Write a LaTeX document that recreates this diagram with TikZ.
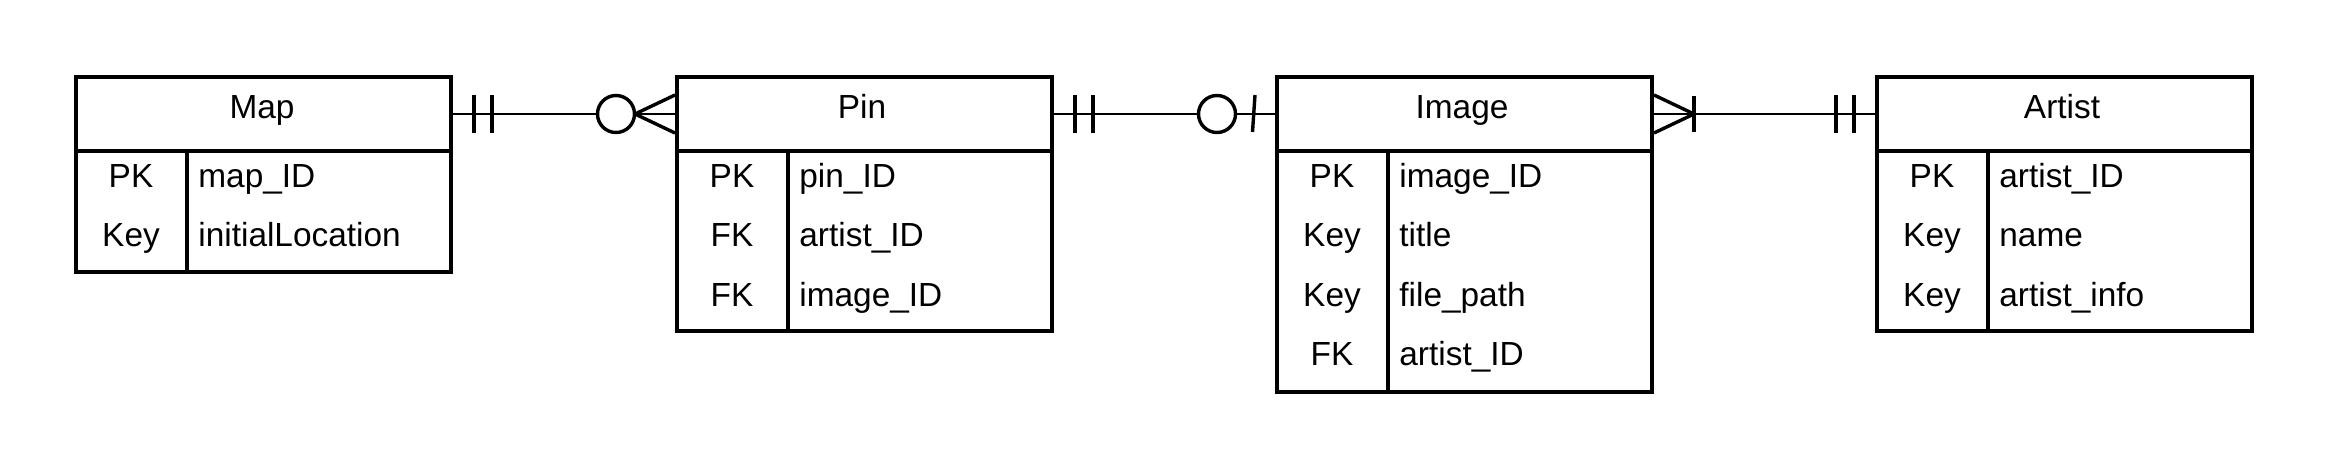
\documentclass[tikz,border=0pt]{standalone}
\usepackage{fontspec}
\setmainfont{Liberation Sans}
\usetikzlibrary{calc}
\tikzset{
  ent/.style={draw, line width=2pt, minimum width=187.5pt, inner sep=0pt, anchor=north west},
  txt/.style={font=\fontsize{16.7}{19}\selectfont, inner sep=0pt},
  conn/.style={line width=1.4pt},
  tick/.style={line width=1.7pt},
  divider/.style={line width=1.6pt},
}
\begin{document}
\begin{tikzpicture}[x=0.5pt,y=-0.5pt]
\useasboundingbox (0,0) rectangle (2325,465);
% ---- Map ----
\node[ent, minimum height=37pt] (maph) at (74,75) {};
\node[ent, minimum height=60.5pt] (mapb) at (74,149) {};
\draw[divider] ($(mapb.north west)+(113,0)$) -- ($(mapb.south west)+(113,0)$);
\node[txt, anchor=base] (mapt) at (262,119) {Map};
\node[txt, anchor=base] (mapk1) at (131,187) {PK};
\node[txt, anchor=base west] (mapv1) at (198,187) {map\_ID};
\node[txt, anchor=base] (mapk2) at (131,246.5) {Key};
\node[txt, anchor=base west] (mapv2) at (198,246.5) {initialLocation};
% ---- Pin ----
\node[ent, minimum height=37pt] (pinh) at (675,75) {};
\node[ent, minimum height=90pt] (pinb) at (675,149) {};
\draw[divider] ($(pinb.north west)+(113,0)$) -- ($(pinb.south west)+(113,0)$);
\node[txt, anchor=base] (pint) at (862,119) {Pin};
\node[txt, anchor=base] (pink1) at (732,187) {PK};
\node[txt, anchor=base west] (pinv1) at (799,187) {pin\_ID};
\node[txt, anchor=base] (pink2) at (732,246.5) {FK};
\node[txt, anchor=base west] (pinv2) at (799,246.5) {artist\_ID};
\node[txt, anchor=base] (pink3) at (732,306) {FK};
\node[txt, anchor=base west] (pinv3) at (799,306) {image\_ID};
% ---- Image ----
\node[ent, minimum height=37pt] (imgh) at (1275,75) {};
\node[ent, minimum height=120.5pt] (imgb) at (1275,149) {};
\draw[divider] ($(imgb.north west)+(113,0)$) -- ($(imgb.south west)+(113,0)$);
\node[txt, anchor=base] (imgt) at (1462,119) {Image};
\node[txt, anchor=base] (imgk1) at (1332,187) {PK};
\node[txt, anchor=base west] (imgv1) at (1399,187) {image\_ID};
\node[txt, anchor=base] (imgk2) at (1332,246.5) {Key};
\node[txt, anchor=base west] (imgv2) at (1399,246.5) {title};
\node[txt, anchor=base] (imgk3) at (1332,306) {Key};
\node[txt, anchor=base west] (imgv3) at (1399,306) {file\_path};
\node[txt, anchor=base] (imgk4) at (1332,365.5) {FK};
\node[txt, anchor=base west] (imgv4) at (1399,365.5) {artist\_ID};
% ---- Artist ----
\node[ent, minimum height=37pt] (arth) at (1875,75) {};
\node[ent, minimum height=90pt] (artb) at (1875,149) {};
\draw[divider] ($(artb.north west)+(113,0)$) -- ($(artb.south west)+(113,0)$);
\node[txt, anchor=base] (artt) at (2062,119) {Artist};
\node[txt, anchor=base] (artk1) at (1932,187) {PK};
\node[txt, anchor=base west] (artv1) at (1999,187) {artist\_ID};
\node[txt, anchor=base] (artk2) at (1932,246.5) {Key};
\node[txt, anchor=base west] (artv2) at (1999,246.5) {name};
\node[txt, anchor=base] (artk3) at (1932,306) {Key};
\node[txt, anchor=base west] (artv3) at (1999,306) {artist\_info};
% ---- Map -- Pin : one and only one  /  zero or many ----
\draw[conn] (maph.east) -- (pinh.west);
\draw[tick] ($(maph.east)+(21,-19)$) -- ($(maph.east)+(21,19)$);
\draw[tick] ($(maph.east)+(39,-19)$) -- ($(maph.east)+(39,19)$);
\draw[tick] ($(pinh.west)+(0,-19)$) -- ($(pinh.west)+(-40,0)$) -- ($(pinh.west)+(0,19)$);
\draw[tick, fill=white] ($(pinh.west)+(-59,0)$) circle[radius=9.25pt];
% ---- Pin -- Image : one and only one  /  zero or one ----
\draw[conn] (pinh.east) -- (imgh.west);
\draw[tick] ($(pinh.east)+(21,-19)$) -- ($(pinh.east)+(21,19)$);
\draw[tick] ($(pinh.east)+(39,-19)$) -- ($(pinh.east)+(39,19)$);
\draw[tick, fill=white] ($(imgh.west)+(-58,0)$) circle[radius=9.25pt];
\draw[tick] ($(imgh.west)+(-20,-19)$) -- ($(imgh.west)+(-22.5,18)$);
% ---- Image -- Artist : one or many  /  one and only one ----
\draw[conn] (imgh.east) -- (arth.west);
\draw[tick] ($(imgh.east)+(0,-19)$) -- ($(imgh.east)+(40,0)$) -- ($(imgh.east)+(0,19)$);
\draw[tick] ($(imgh.east)+(40,-18)$) -- ($(imgh.east)+(40,18)$);
\draw[tick] ($(arth.west)+(-39,-19)$) -- ($(arth.west)+(-39,19)$);
\draw[tick] ($(arth.west)+(-21,-19)$) -- ($(arth.west)+(-21,19)$);
\end{tikzpicture}
\end{document}
